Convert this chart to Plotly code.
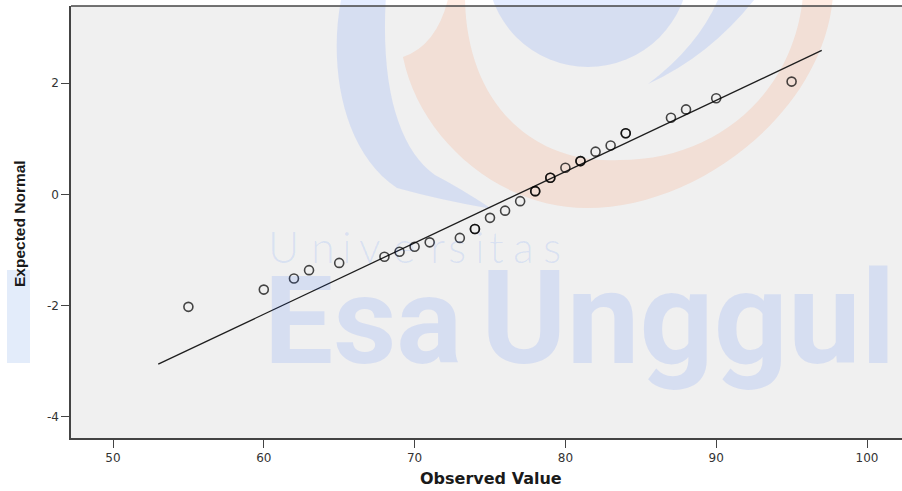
import plotly.graph_objects as go

# ---------------- data ----------------
observed = [55, 60, 62, 63, 65, 68, 69, 70, 71, 73, 74, 74, 75, 76, 77, 78, 78,
            79, 79, 80, 81, 81, 82, 83, 84, 84, 87, 88, 90, 95]
expected = [-2.02, -1.71, -1.51, -1.36, -1.23, -1.12, -1.03, -0.94, -0.86, -0.78,
            -0.62, -0.62, -0.42, -0.29, -0.12, 0.06, 0.06, 0.30, 0.30, 0.48,
            0.60, 0.60, 0.77, 0.88, 1.10, 1.10, 1.38, 1.53, 1.73, 2.03]
line_x = [53, 97]
line_y = [-3.05, 2.59]
x_ticks = [50, 60, 70, 80, 90, 100]
y_ticks = [-4, -2, 0, 2]
x_title = "Observed Value"
y_title = "Expected Normal"
wm_big = ["Esa", "Unggul"]
wm_small = list("Universitas")

# ---------------- layout geometry (pixels) ----------------
W, H = 902, 491
L, R, T, B = 71, 902, 6, 438
PW, PH = R - L, B - T
PX_PER_X = 15.08
X0 = 50 - (113 - L) / PX_PER_X
X1 = X0 + PW / PX_PER_X


def px(x):
    return (x - L) / PW


def py(y):
    return (B - y) / PH


def P(x, y):
    return f"{px(x):.4f},{py(y):.4f}"


BLUE = "rgba(0,80,255,0.105)"
SALMON = "rgba(255,112,45,0.133)"

shapes = []
# salmon swoosh
salmon_path = (
    f"M {P(403,57)} C {P(420,140)} {P(500,208)} {P(587,208)} "
    f"C {P(700,208)} {P(825,110)} {P(833,-5)} L {P(803,-5)} "
    f"C {P(795,90)} {P(720,160)} {P(620,160)} "
    f"C {P(530,165)} {P(465,100)} {P(465,-5)} L {P(449,-5)} "
    f"Q {P(438,45)} {P(403,57)} Z"
)
shapes.append(dict(type="path", xref="paper", yref="paper", path=salmon_path,
                   fillcolor=SALMON, line=dict(width=0), layer="below"))
# left blue crescent
crescent_path = (
    f"M {P(342,-5)} C {P(328,60)} {P(340,150)} {P(397,188)} "
    f"Q {P(440,200)} {P(492,209)} Q {P(460,188)} {P(435,175)} "
    f"C {P(400,150)} {P(380,90)} {P(386,-5)} Z"
)
shapes.append(dict(type="path", xref="paper", yref="paper", path=crescent_path,
                   fillcolor=BLUE, line=dict(width=0), layer="below"))
# right blue arm
arm_path = (
    f"M {P(720,-5)} Q {P(700,45)} {P(648,84)} Q {P(712,55)} {P(758,-5)} Z"
)
shapes.append(dict(type="path", xref="paper", yref="paper", path=arm_path,
                   fillcolor=BLUE, line=dict(width=0), layer="below"))
# blue head circle
shapes.append(dict(type="circle", xref="paper", yref="paper",
                   x0=px(487), x1=px(689), y0=py(67), y1=py(-135),
                   fillcolor=BLUE, line=dict(width=0), layer="below"))
# left blue bar
shapes.append(dict(type="rect", xref="paper", yref="paper",
                   x0=px(7), x1=px(30), y0=py(363), y1=py(270),
                   fillcolor="rgba(0,82,210,0.11)", line=dict(width=0), layer="below"))
# top frame line (the plot continues past the right edge of the page)
shapes.append(dict(type="line", xref="paper", yref="paper", x0=0, x1=1.02, y0=1, y1=1,
                   line=dict(color="#444444", width=1.5), layer="above"))

annotations = []
for word, left, size in zip(wm_big, [262, 479], [123, 130]):
    annotations.append(dict(text=word, xref="paper", yref="paper",
                            x=px(left), y=py(363 - 0.342 * size),
                            xanchor="left", yanchor="middle", showarrow=False,
                            font=dict(family="Roboto", size=size, weight=700,
                                      color="rgba(0,80,255,0.105)")))
small_centers = [283, 323, 347, 370, 404, 437, 457, 480, 497, 523, 552]
for ch, cx in zip(wm_small, small_centers):
    annotations.append(dict(text=ch, xref="paper", yref="paper",
                            x=px(cx), y=py(246), xanchor="center", yanchor="middle",
                            showarrow=False,
                            font=dict(family="Lato", size=43, weight=300,
                                      color="rgba(0,80,255,0.10)")))
annotations.append(dict(text=f"<b>{x_title}</b>", xref="paper", yref="paper",
                        x=px(491), y=py(478), xanchor="center", yanchor="middle",
                        showarrow=False,
                        font=dict(family="DejaVu Sans", size=16, color="#1a1a1a")))
annotations.append(dict(text=f"<b>{y_title}</b>", xref="paper", yref="paper",
                        x=px(19), y=py(223), xanchor="center", yanchor="middle",
                        textangle=-90, showarrow=False,
                        font=dict(family="Liberation Sans", size=15.5, color="#1a1a1a")))

MARK = "rgba(0,0,0,0.72)"
fig = go.Figure()
fig.add_trace(go.Scatter(x=line_x, y=line_y, mode="lines",
                         line=dict(color="#1e1e1e", width=1.3),
                         hoverinfo="skip", showlegend=False))
fig.add_trace(go.Scatter(x=observed, y=expected, mode="markers",
                         marker=dict(symbol="circle-open", size=9, color=MARK,
                                     line=dict(color=MARK, width=1.6)),
                         showlegend=False))

fig.update_layout(
    width=W, height=H,
    margin=dict(l=L, r=W - R, t=T, b=H - B, pad=0),
    paper_bgcolor="white",
    plot_bgcolor="#f0f0f0",
    shapes=shapes,
    annotations=annotations,
    showlegend=False,
)
fig.update_xaxes(range=[X0, X1], tickvals=x_ticks, ticktext=[str(v) for v in x_ticks],
                 showgrid=False, zeroline=False, showline=True, linecolor="#444444",
                 linewidth=1.5, mirror=False, ticks="outside", ticklen=8, tickwidth=1.3,
                 tickcolor="#444444",
                 tickfont=dict(family="DejaVu Sans", size=12, color="#333333"))
fig.update_yaxes(range=[-4.378, 3.389], tickvals=y_ticks, ticktext=[str(v) for v in y_ticks],
                 showgrid=False, zeroline=False, showline=True, linecolor="#444444",
                 linewidth=1.5, mirror=False, ticks="outside", ticklen=8, tickwidth=1.3,
                 tickcolor="#444444",
                 tickfont=dict(family="DejaVu Sans", size=12, color="#333333"))

fig.write_html(
    "out.html",
    config={"displayModeBar": False},
    post_script="document.body.style.margin='0';document.body.style.overflow='hidden';",
)
